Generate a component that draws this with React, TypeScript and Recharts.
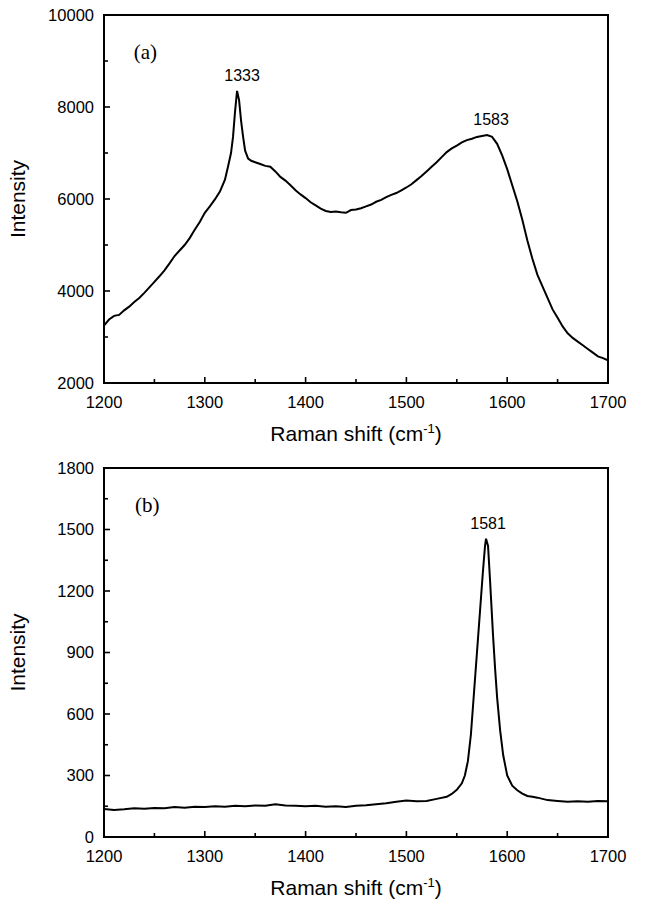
import React from 'react';
import { LineChart, Line, XAxis, YAxis, ReferenceArea, ReferenceDot, Label } from 'recharts';

// panel (a): spectrum with diamond + graphite bands
const shiftA = [
  1200, 1205, 1210, 1215, 1220, 1225, 1230, 1235, 1240, 1245, 1250, 1255, 1260, 1265, 1270, 1275,
  1280, 1285, 1290, 1295, 1300, 1305, 1310, 1315, 1320, 1323, 1326, 1328, 1330, 1332, 1334, 1336,
  1338, 1340, 1343, 1346, 1350, 1355, 1360, 1365, 1370, 1375, 1380, 1385, 1390, 1395, 1400, 1405,
  1410, 1415, 1420, 1425, 1430, 1435, 1440, 1445, 1450, 1455, 1460, 1465, 1470, 1475, 1480, 1485,
  1490, 1495, 1500, 1505, 1510, 1515, 1520, 1525, 1530, 1535, 1540, 1545, 1550, 1555, 1560, 1565,
  1570, 1575, 1580, 1585, 1590, 1595, 1600, 1605, 1610, 1615, 1620, 1625, 1630, 1635, 1640, 1645,
  1650, 1655, 1660, 1665, 1670, 1675, 1680, 1685, 1690, 1695, 1700,
];
const intensityA = [
  3250, 3380, 3460, 3480, 3580, 3660, 3760, 3850, 3960, 4080, 4200, 4320, 4450, 4600, 4760, 4880,
  5000, 5150, 5330, 5500, 5700, 5840, 5990, 6160, 6420, 6700, 7000, 7350, 7900, 8350, 8150, 7700,
  7350, 7050, 6880, 6830, 6800, 6760, 6720, 6700, 6600, 6480, 6400, 6300, 6190, 6100, 6020, 5930,
  5860, 5790, 5740, 5720, 5730, 5710, 5700, 5760, 5770, 5800, 5840, 5880, 5940, 5980, 6040, 6090,
  6130, 6190, 6250, 6320, 6410, 6500, 6600, 6700, 6800, 6910, 7020, 7100, 7160, 7230, 7280, 7310,
  7350, 7370, 7390, 7350, 7200, 6950, 6650, 6300, 5950, 5550, 5100, 4700, 4350, 4100, 3850, 3600,
  3420, 3230, 3080, 2980, 2900, 2820, 2740, 2660, 2580, 2540, 2490,
];

// panel (b): single G band
const shiftB = [
  1200, 1210, 1220, 1230, 1240, 1250, 1260, 1270, 1280, 1290, 1300, 1310, 1320, 1330, 1340, 1350,
  1360, 1370, 1380, 1390, 1400, 1410, 1420, 1430, 1440, 1450, 1460, 1470, 1480, 1490, 1500, 1510,
  1520, 1530, 1540, 1545, 1550, 1555, 1558, 1561, 1564, 1567, 1570, 1573, 1576, 1578, 1579, 1581,
  1583, 1586, 1588, 1590, 1593, 1596, 1600, 1605, 1610, 1615, 1620, 1625, 1630, 1640, 1650, 1660,
  1670, 1680, 1690, 1700,
];
const intensityB = [
  137, 132, 135, 140, 138, 142, 140, 146, 143, 148, 146, 150, 148, 152, 150, 154,
  152, 160, 154, 152, 150, 152, 148, 150, 146, 152, 155, 160, 165, 172, 178, 174,
  176, 186, 196, 210, 230, 262, 300, 370, 500, 700, 900, 1100, 1300, 1420, 1455, 1420,
  1250, 980, 820, 680, 520, 400, 300, 250, 228, 212, 200, 196, 192, 180, 176, 172,
  174, 172, 176, 174,
];

const xTicks = [1200, 1250, 1300, 1350, 1400, 1450, 1500, 1550, 1600, 1650, 1700];
const xLabelled = [1200, 1300, 1400, 1500, 1600, 1700];
const yTicksA = [2000, 3000, 4000, 5000, 6000, 7000, 8000, 9000, 10000];
const yLabelledA = [2000, 4000, 6000, 8000, 10000];
const yTicksB = [0, 150, 300, 450, 600, 750, 900, 1050, 1200, 1350, 1500, 1650, 1800];
const yLabelledB = [0, 300, 600, 900, 1200, 1500, 1800];

const peaksA = [
  { x: 1337, y: 8680, text: '1333' },
  { x: 1584, y: 7730, text: '1583' },
];
const peaksB = [{ x: 1581, y: 1530, text: '1581' }];
const tagA = { x: 1241, y: 9200, text: '(a)' };
const tagB = { x: 1243, y: 1620, text: '(b)' };

const dataA = shiftA.map((s, i) => ({ shift: s, value: intensityA[i] }));
const dataB = shiftB.map((s, i) => ({ shift: s, value: intensityB[i] }));

const SANS = '"Liberation Sans", Arial, Helvetica, sans-serif';
const SERIF = '"Liberation Serif", "Times New Roman", serif';

const XTick = (props: any) => {
  const { x, y, payload } = props;
  const major = xLabelled.includes(payload.value);
  return (
    <g>
      <line x1={x} x2={x} y1={y} y2={y - (major ? 6 : 4)} stroke="#000" strokeWidth={1.6} />
      {major && (
        <text x={x} y={y + 25} textAnchor="middle" fontFamily={SANS} fontSize={16.5} fill="#000">
          {payload.value}
        </text>
      )}
    </g>
  );
};

const makeYTick = (labelled: number[]) => (props: any) => {
  const { x, y, payload } = props;
  const major = labelled.includes(payload.value);
  return (
    <g>
      <line x1={x} x2={x + (major ? 6 : 4)} y1={y} y2={y} stroke="#000" strokeWidth={1.6} />
      {major && (
        <text x={x - 10} y={y} dy="0.36em" textAnchor="end" fontFamily={SANS} fontSize={16.5} fill="#000">
          {payload.value}
        </text>
      )}
    </g>
  );
};

const XTitle = (props: any) => {
  const vb = props.viewBox;
  return (
    <text x={vb.x + vb.width / 2} y={vb.y + 58} textAnchor="middle" fontFamily={SANS} fontSize={21} fill="#000">
      <tspan>Raman shift (cm</tspan>
      <tspan dy={-8} fontSize={13}>-1</tspan>
      <tspan dy={8}>)</tspan>
    </text>
  );
};

const YTitle = (props: any) => {
  const vb = props.viewBox;
  const cy = vb.y + vb.height / 2;
  return (
    <text x={25} y={cy} transform={`rotate(-90 25 ${cy})`} textAnchor="middle" fontFamily={SANS} fontSize={21} fill="#000">
      Intensity
    </text>
  );
};

const textShape = (text: string, family: string, size: number) => (p: any) => (
  <text x={p.cx} y={p.cy} dy="0.36em" textAnchor="middle" fontFamily={family} fontSize={size} fill="#000">
    {text}
  </text>
);

interface PanelProps {
  data: { shift: number; value: number }[];
  height: number;
  top: number;
  yDomain: [number, number];
  yTicks: number[];
  yLabelled: number[];
  peaks: { x: number; y: number; text: string }[];
  tag: { x: number; y: number; text: string };
}

const Panel: React.FC<PanelProps> = ({ data, height, top, yDomain, yTicks, yLabelled, peaks, tag }) => (
  <LineChart width={646} height={height} data={data} margin={{ top, right: 38, bottom: 0, left: 0 }}>
    <XAxis
      type="number"
      dataKey="shift"
      domain={[1200, 1700]}
      ticks={xTicks}
      interval={0}
      allowDataOverflow
      axisLine={false}
      tickLine={false}
      tickSize={0}
      tickMargin={0}
      height={67}
      tick={<XTick />}
    >
      <Label content={<XTitle />} />
    </XAxis>
    <YAxis
      type="number"
      domain={yDomain}
      ticks={yTicks}
      interval={0}
      allowDataOverflow
      axisLine={false}
      tickLine={false}
      tickSize={0}
      tickMargin={0}
      width={104}
      tick={makeYTick(yLabelled)}
    >
      <Label content={<YTitle />} />
    </YAxis>
    <ReferenceArea
      x1={1200}
      x2={1700}
      y1={yDomain[0]}
      y2={yDomain[1]}
      fill="none"
      stroke="#000"
      strokeWidth={2}
      fillOpacity={0}
    />
    <Line
      type="linear"
      dataKey="value"
      stroke="#000"
      strokeWidth={2}
      dot={false}
      isAnimationActive={false}
    />
    {peaks.map((p) => (
      <ReferenceDot key={p.text} x={p.x} y={p.y} r={0} shape={textShape(p.text, SANS, 16)} />
    ))}
    <ReferenceDot x={tag.x} y={tag.y} r={0} shape={textShape(tag.text, SERIF, 21)} />
  </LineChart>
);

export default function App() {
  return (
    <div style={{ position: 'absolute', left: 0, top: 0, width: 646, height: 904, background: '#fff' }}>
      <div style={{ position: 'absolute', left: 0, top: 0 }}>
        <Panel
          data={dataA}
          height={450}
          top={15}
          yDomain={[2000, 10000]}
          yTicks={yTicksA}
          yLabelled={yLabelledA}
          peaks={peaksA}
          tag={tagA}
        />
      </div>
      <div style={{ position: 'absolute', left: 0, top: 450 }}>
        <Panel
          data={dataB}
          height={454}
          top={18}
          yDomain={[0, 1800]}
          yTicks={yTicksB}
          yLabelled={yLabelledB}
          peaks={peaksB}
          tag={tagB}
        />
      </div>
    </div>
  );
}
